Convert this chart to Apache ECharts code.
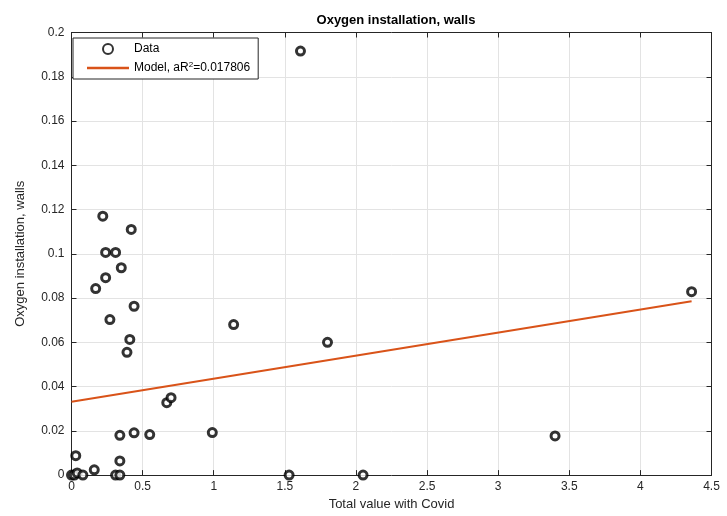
<!DOCTYPE html>
<html>
<head>
<meta charset="utf-8">
<script src="https://cdn.jsdelivr.net/npm/echarts@6/dist/echarts.min.js"></script>
<style>
  html, body { margin: 0; padding: 0; background: #fff; }
  #chart { width: 727px; height: 516px; }
</style>
</head>
<body>
<div id="chart"></div>
<script>
// scatter points: [total value with Covid, oxygen installation walls]
const dataX = [0, 0.02, 0.04, 0.03, 0.08, 0.16, 0.31, 0.34, 0.34, 0.34, 0.44, 0.55, 0.99,
  0.17, 0.24, 0.22, 0.24, 0.31, 0.35, 0.42, 0.44, 0.27, 0.41, 0.39,
  0.67, 0.70, 1.14, 1.80, 1.61, 1.53, 2.05, 3.40, 4.36];
const dataY = [0, 0, 0.001, 0.0088, 0, 0.0024, 0, 0, 0.0064, 0.018, 0.0191, 0.0183, 0.0192,
  0.0843, 0.0892, 0.117, 0.1006, 0.1006, 0.0937, 0.111, 0.0763, 0.0703, 0.0613, 0.0555,
  0.0327, 0.035, 0.068, 0.060, 0.1916, 0, 0, 0.0177, 0.0829];
// fitted model line endpoints
const modelX = [0, 4.36];
const modelY = [0.0331, 0.0786];
const xTicks = { min: 0, max: 4.5, step: 0.5 };
const yTicks = { min: 0, max: 0.2, step: 0.02 };

const font = "'Liberation Sans', Arial, sans-serif";
const axisColor = '#262626';

let chart = echarts.init(document.getElementById('chart'));

function xAxisCfg(top) {
    return {
        type: 'value',
        position: top ? 'top' : 'bottom',
        min: xTicks.min, max: xTicks.max, interval: xTicks.step,
        name: top ? '' : 'Total value with Covid',
        nameLocation: 'middle',
        nameGap: 22,
        nameTextStyle: { color: axisColor, fontSize: 13, fontFamily: font, verticalAlign: 'top' },
        axisLine: { show: true, onZero: false, lineStyle: { color: axisColor, width: 1 } },
        axisTick: { show: true, inside: true, length: 5, lineStyle: { color: axisColor } },
        axisLabel: {
            show: !top, color: axisColor, fontSize: 12, fontFamily: font, margin: 6,
            formatter: v => String(+v.toFixed(2))
        },
        splitLine: { show: !top, lineStyle: { color: '#e3e3e3', width: 1 } }
    };
}

function yAxisCfg(right) {
    return {
        type: 'value',
        position: right ? 'right' : 'left',
        min: yTicks.min, max: yTicks.max, interval: yTicks.step,
        name: right ? '' : 'Oxygen installation, walls',
        nameLocation: 'middle',
        nameGap: 45,
        nameTextStyle: { color: axisColor, fontSize: 13, fontFamily: font },
        axisLine: { show: true, onZero: false, lineStyle: { color: axisColor, width: 1 } },
        axisTick: { show: true, inside: true, length: 5, lineStyle: { color: axisColor } },
        axisLabel: {
            show: !right, color: axisColor, fontSize: 12, fontFamily: font, margin: 7,
            formatter: v => String(+v.toFixed(2))
        },
        splitLine: { show: !right, lineStyle: { color: '#e3e3e3', width: 1 } }
    };
}

let option = {
    animation: false,
    backgroundColor: '#ffffff',
    title: {
        text: 'Oxygen installation, walls',
        left: 391, top: 9, textAlign: 'center',
        textStyle: { fontSize: 13, fontWeight: 'bold', color: '#000', fontFamily: font }
    },
    grid: { left: 71.5, right: 15.5, top: 32.5, bottom: 40 },
    legend: {
        orient: 'vertical',
        left: 73, top: 38,
        itemWidth: 42, itemHeight: 10, itemGap: 6,
        padding: [5, 8, 5, 14],
        borderColor: axisColor, borderWidth: 1,
        backgroundColor: '#fff',
        textStyle: {
            color: '#000', fontSize: 12, fontFamily: font,
            rich: { sup: { fontSize: 8, verticalAlign: 'top', padding: [0, 0, 6, 0], fontFamily: font } }
        },
        formatter: function (name) {
            if (name === 'Model') return 'Model, aR{sup|2}=0.017806';
            return name;
        },
        data: [
            { name: 'Data' },
            { name: 'Model', icon: 'path://M0,0H40V2.2H0Z' }
        ]
    },
    xAxis: [xAxisCfg(false), xAxisCfg(true)],
    yAxis: [yAxisCfg(false), yAxisCfg(true)],
    series: [
        {
            name: 'Data',
            type: 'scatter',
            symbol: 'circle',
            symbolSize: 8,
            itemStyle: { color: '#ffffff', borderColor: '#000000', borderWidth: 3 },
            data: dataX.map((x, i) => [x, dataY[i]]),
            z: 3
        },
        {
            name: 'Model',
            type: 'line',
            symbol: 'none',
            lineStyle: { color: '#D95319', width: 2 },
            itemStyle: { color: '#D95319' },
            data: modelX.map((x, i) => [x, modelY[i]]),
            z: 2
        }
    ]
};

chart.setOption(option);
</script>
</body>
</html>
